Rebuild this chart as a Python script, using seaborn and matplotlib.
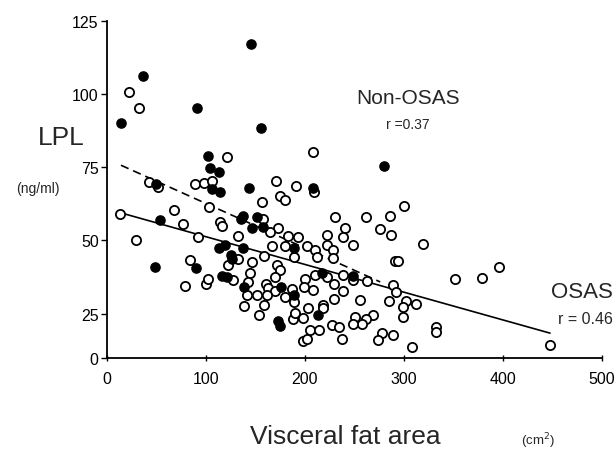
import matplotlib
matplotlib.use("Agg")
import matplotlib.pyplot as plt
import seaborn as sns
import pandas as pd

# ---- data ----
# Non-OSAS (filled circles)
nonosas_x = [14.1, 36.4, 90.9, 145.5, 155.6, 102.0, 104.0, 113.0, 106.0, 114.0,
             143.4, 49.5, 53.5, 48.5, 89.9, 137.4, 135.4, 151.5, 146.5, 157.6,
             113.1, 119.2, 125.3, 126.3, 137.4, 116.2, 121.2, 138.4, 175.8, 188.9,
             188.9, 172.7, 174.7, 208.1, 279.8, 217.2, 248.5, 213.1]
nonosas_y = [90.0, 106.1, 95.1, 117.3, 88.3, 78.8, 74.7, 73.3, 67.5, 66.5,
             67.8, 69.2, 56.9, 40.9, 40.5, 58.3, 57.3, 58.0, 54.2, 54.5,
             47.4, 48.4, 45.0, 43.6, 47.4, 37.8, 37.5, 34.0, 34.0, 47.4,
             31.3, 22.4, 20.7, 67.8, 75.3, 38.8, 37.8, 24.5]

# OSAS (open circles)
osas_x = [22.2, 32.3, 121.2, 13.1, 42.4, 51.5, 67.7, 76.8, 29.3, 91.9,
          88.9, 98.0, 106.1, 103.0, 83.8, 78.8, 100.0, 102.0, 170.7, 190.9,
          208.1, 156.6, 174.7, 179.8, 157.6, 114.1, 116.2, 132.3, 172.7, 164.6,
          182.8, 192.9, 166.7, 179.8, 202.0, 132.3, 122.2, 146.5, 158.6, 188.9,
          171.7, 174.7, 127.3, 144.4, 142.4, 141.4, 151.5, 160.6, 162.6, 169.7,
          169.7, 179.8, 186.9, 188.9, 161.6, 158.6, 138.4, 153.5, 187.9, 189.9,
          198.0, 203.0, 200.0, 199.0, 198.0, 202.0, 205.1, 209.1, 300.0, 230.3,
          261.6, 285.9, 240.4, 275.8, 222.2, 238.4, 286.9, 248.5, 222.2, 210.1,
          212.1, 228.3, 228.3, 290.9, 293.9, 210.1, 222.2, 238.4, 248.5, 262.6,
          229.3, 208.1, 238.4, 288.9, 291.9, 302.0, 312.1, 284.8, 255.6, 229.3,
          218.2, 218.2, 299.0, 299.0, 250.5, 268.7, 261.6, 257.6, 248.5, 227.3,
          234.3, 214.1, 277.8, 273.7, 288.9, 237.4, 308.1, 319.2, 351.5, 378.8,
          396.0, 332.3, 332.3, 447.5]
osas_y = [100.9, 95.1, 78.4, 59.0, 69.9, 68.2, 60.3, 55.5, 50.1, 51.1,
          69.2, 69.6, 70.2, 61.3, 43.3, 34.4, 35.1, 36.8, 70.2, 68.5,
          80.1, 63.1, 65.1, 63.7, 57.3, 56.2, 54.9, 51.5, 54.2, 52.8,
          51.5, 51.1, 48.0, 48.0, 48.0, 43.6, 41.6, 42.6, 44.6, 44.3,
          41.6, 39.8, 36.4, 38.8, 35.8, 31.3, 31.3, 35.1, 33.7, 37.5,
          32.7, 30.6, 33.4, 28.9, 31.3, 27.9, 27.6, 24.5, 23.1, 25.2,
          23.5, 26.9, 36.8, 34.0, 15.6, 16.3, 19.4, 66.5, 61.7, 57.9,
          57.9, 58.3, 54.2, 53.8, 51.8, 51.1, 51.8, 48.4, 48.4, 46.7,
          44.3, 46.7, 43.9, 42.9, 42.9, 38.1, 37.5, 38.1, 36.4, 36.1,
          35.1, 33.0, 32.7, 34.7, 32.3, 29.3, 28.2, 29.3, 29.6, 29.9,
          27.9, 26.9, 27.2, 23.8, 23.8, 24.5, 23.1, 21.4, 21.4, 21.1,
          20.4, 19.4, 18.3, 15.9, 17.7, 16.3, 13.6, 48.7, 36.8, 37.1,
          40.9, 20.4, 18.7, 14.2]

# regression lines (end points as drawn in the reference)
nonosas_line_x = [14.1, 276.0]
nonosas_line_y = [75.7, 35.8]
osas_line_x = [15.2, 447.5]
osas_line_y = [59.3, 18.3]

x_ticks = [0, 100, 200, 300, 400, 500]
y_tick_labels = ["0", "25", "50", "75", "100", "125"]
y_tick_values = [9.8, 25, 50, 75, 100, 125]   # the reference's "0" sits at the axis floor

sns.set_style("ticks")
plt.rcParams["font.family"] = ["Liberation Sans", "DejaVu Sans"]

W, H = 616, 456
fig = plt.figure(figsize=(W / 100, H / 100), dpi=100)
ax = fig.add_axes([107 / W, (H - 359) / H, (602 - 107) / W, (359 - 22) / H])

df_non = pd.DataFrame({"x": nonosas_x, "y": nonosas_y})
df_osas = pd.DataFrame({"x": osas_x, "y": osas_y})

sns.scatterplot(data=df_osas, x="x", y="y", ax=ax, s=44, marker="o",
                facecolor="white", edgecolor="black", linewidth=1.3, zorder=3)
sns.scatterplot(data=df_non, x="x", y="y", ax=ax, s=44, marker="o",
                color="black", edgecolor="black", linewidth=1.0, zorder=4)

sns.lineplot(x=nonosas_line_x, y=nonosas_line_y, ax=ax, color="black",
             linewidth=1.2, linestyle=(0, (5, 3)), zorder=2)
sns.lineplot(x=osas_line_x, y=osas_line_y, ax=ax, color="black",
             linewidth=1.2, zorder=2)

ax.set_xlim(0, 500)
ax.set_ylim(y_tick_values[0], 125)
ax.set_xticks(x_ticks)
ax.set_xticklabels([str(t) for t in x_ticks], fontsize=11.5)
ax.set_yticks(y_tick_values)
ax.set_yticklabels(y_tick_labels, fontsize=11.5)
ax.set_xlabel("")
ax.set_ylabel("")
sns.despine(ax=ax)
for sp in ("left", "bottom"):
    ax.spines[sp].set_linewidth(1.3)
    ax.spines[sp].set_color("black")
ax.tick_params(axis="y", direction="out", length=4, width=1, colors="black", pad=2)
ax.tick_params(axis="x", direction="inout", length=5, width=1, colors="black", pad=7)

# labels
fig.text(61 / W, 1 - 138 / H, "LPL", fontsize=19, ha="center", va="center")
fig.text(38 / W, 1 - 189 / H, "(ng/ml)", fontsize=10, ha="center", va="center")
fig.text(345 / W, 1 - 437 / H, "Visceral fat area", fontsize=19, ha="center", va="center")
fig.text(538 / W, 1 - 441 / H, "(cm$^2$)", fontsize=9.5, ha="center", va="center")
fig.text(408 / W, 1 - 98 / H, "Non-OSAS", fontsize=15, ha="center", va="center")
fig.text(408 / W, 1 - 125 / H, "r =0.37", fontsize=10, ha="center", va="center")
fig.text(582 / W, 1 - 293 / H, "OSAS", fontsize=16, ha="center", va="center")
fig.text(585 / W, 1 - 320 / H, "r = 0.46", fontsize=11.5, ha="center", va="center")

fig.savefig("out.png", dpi=100)
